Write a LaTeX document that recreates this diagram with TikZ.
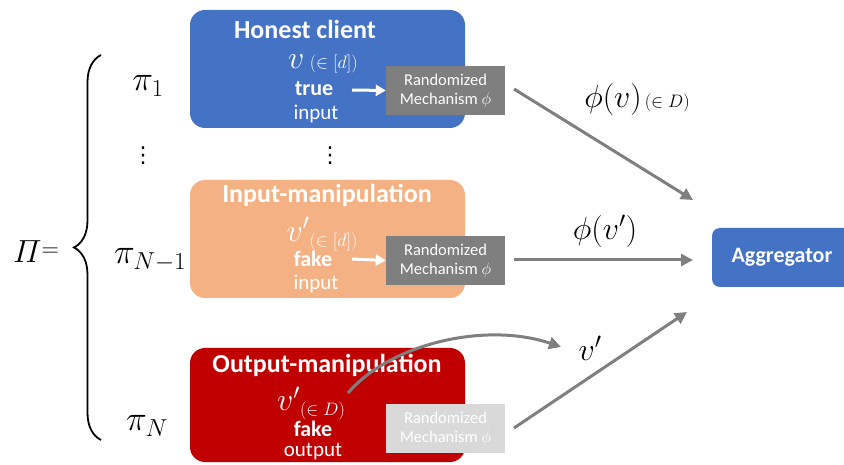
\documentclass[tikz,border=0pt]{standalone}
\usepackage{fix-cm}
\usepackage{amsmath}
\usepackage{fontspec}
\setmainfont{Carlito}
\newfontfamily\dejavu{DejaVu Sans}
\usetikzlibrary{arrows.meta,decorations.pathreplacing}
\definecolor{cblue}{HTML}{4472C4}
\definecolor{corange}{HTML}{F4B183}
\definecolor{cred}{HTML}{C00000}
\definecolor{cgray}{HTML}{7F7F7F}
\definecolor{clight}{HTML}{D9D9D9}
\newcommand{\fsz}[1]{\fontsize{#1}{#1}\selectfont}
\begin{document}
\begin{tikzpicture}[x=1pt,y=1pt,
  client/.style={rounded corners=15pt, minimum width=275pt, inner sep=0pt},
  mech/.style={fill=#1, text=white, minimum width=119pt, minimum height=49pt, inner sep=0pt, align=center, font=\fsz{16.5}},
  ttl/.style={text=white, font=\bfseries\fsz{26}, inner sep=0pt},
  wtxt/.style={text=white, inner sep=0pt},
  flow/.style={draw=cgray, line width=3pt, -{Triangle[length=12pt,width=12pt]}},
  wflow/.style={draw=white, line width=3pt, -{Triangle[length=10pt,width=11pt]}},
  lbl/.style={inner sep=0pt}
]
\clip (0,0) rectangle (844,464);
% client boxes
\node[client, fill=cblue, minimum height=118pt] (hc) at (327.5,395) {};
\node[client, fill=corange, minimum height=118pt] (im) at (327.5,225) {};
\node[client, fill=cred, minimum height=114pt] (om) at (327.5,59) {};
% titles
\node[ttl] (t1) at (305,435) {Honest client};
\node[ttl] (t2) at (327,268.5) {Input-manipulation};
\node[ttl] (t3) at (327,98.5) {Output-manipulation};
% values
\node[wtxt] (v1) at (323,400) {\fsz{32}$v$\,\fsz{18}$(\in[d])$};
\node[wtxt] (v2) at (322,230) {\fsz{32}$v'$\raisebox{-5pt}{\fsz{18}$(\in[d])$}};
\node[wtxt] (v3) at (311,60.5) {\fsz{32}$v'$\raisebox{-5pt}{\fsz{18}$(\in D)$}};
% descriptions
\node[wtxt, font=\bfseries\fsz{22}] (d1) at (314,375) {true};
\node[wtxt, font=\fsz{21}] (e1) at (316,350) {input};
\node[wtxt, font=\bfseries\fsz{22}] (d2) at (313,205) {fake};
\node[wtxt, font=\fsz{21}] (e2) at (316,180) {input};
\node[wtxt, font=\bfseries\fsz{22}] (d3) at (313,35.5) {fake};
\node[wtxt, font=\fsz{21}] (e3) at (313,12) {output};
% mechanisms
\node[mech=cgray] (rm1) at (445.5,373.5) {Randomized\\[2.5pt]Mechanism $\phi$};
\node[mech=cgray] (rm2) at (445.5,203.5) {Randomized\\[2.5pt]Mechanism $\phi$};
\node[mech=clight] (rm3) at (445.5,35.5) {Randomized\\[2.5pt]Mechanism $\phi$};
% aggregator
\node[fill=cblue, rounded corners=8pt, minimum width=140pt, minimum height=59pt, text=white, font=\bfseries\fsz{22}, inner sep=0pt] (agg) at (782,206.5) {Aggregator};
% white arrows
\coordinate (w1s) at (352,374);
\coordinate (w2s) at (352,205);
\draw[wflow] (w1s) -- (rm1.west);
\draw[wflow] (w2s) -- (rm2.west);
% gray arrows
\coordinate (g1s) at (514,375);
\coordinate (g1e) at (693,264);
\coordinate (g2s) at (514,204);
\coordinate (g2e) at (693,204);
\coordinate (g3s) at (514,36);
\coordinate (g3e) at (687,152);
\coordinate (cs) at (348,71);
\coordinate (ce) at (561,117);
\draw[flow] (g1s) -- (g1e);
\draw[flow] (g2s) -- (g2e);
\draw[flow] (g3s) -- (g3e);
\draw[flow] (cs) .. controls (392,122) and (488,142) .. (ce);
% arrow labels
\node[lbl] (l1) at (637,364) {\fsz{32}$\phi(v)$\fsz{18}$\,(\in D)$};
\node[lbl] (l2) at (605,233) {\fsz{32}$\phi(v')$};
\node[lbl] (l3) at (590,116) {\fsz{32}$v'$};
% left side
\node[lbl] (pi) at (36,212) {\fsz{32}$\varPi$\raisebox{6pt}{\fsz{24}$=$}};
\draw[line width=1.8pt, decorate, decoration={brace, amplitude=27pt, aspect=0.5}] (101,24) -- (101,409);
\node[lbl] (p1) at (148,378) {\fsz{35}$\pi_1$};
\node[lbl] (pn1) at (150,204) {\fsz{35}$\pi_{N-1}$};
\node[lbl] (pn) at (147,38) {\fsz{35}$\pi_N$};
\node[lbl] (dd1) at (143,308) {\dejavu\fsz{22}⋮};
\node[lbl] (dd2) at (330,308) {\dejavu\fsz{22}⋮};
\end{tikzpicture}
\end{document}
